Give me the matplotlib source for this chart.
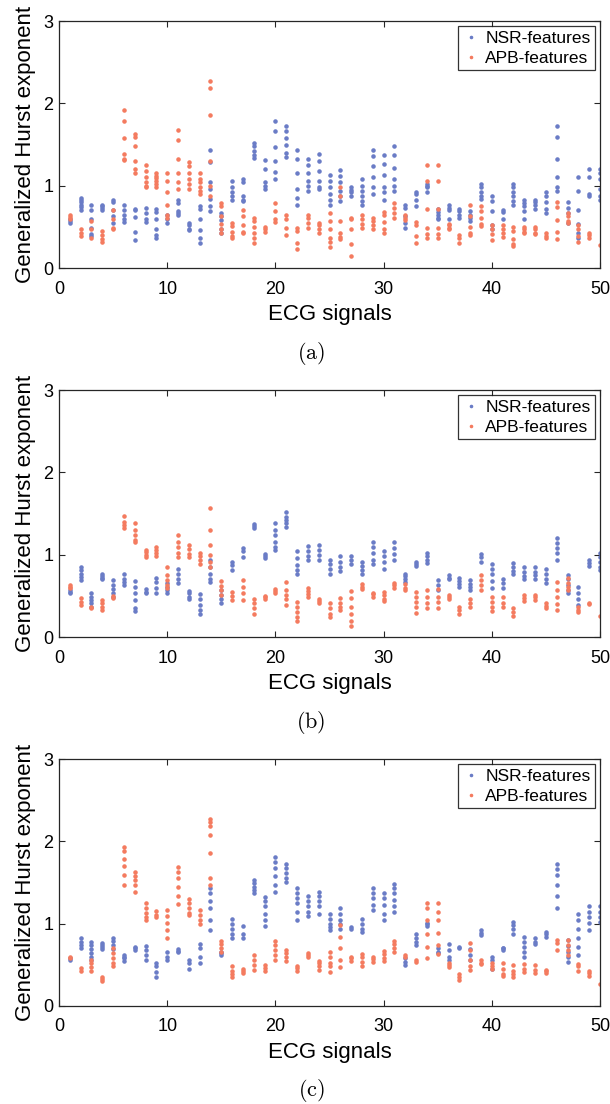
import matplotlib
matplotlib.use("Agg")
import matplotlib.pyplot as plt

plt.rcParams['font.family'] = ['Liberation Sans', 'DejaVu Sans']
plt.rcParams['mathtext.fontset'] = 'cm'

NSR_COLOR = '#6a7cc6'
APB_COLOR = '#f47b5f'

signals = list(range(1, 51))

# (a) NSR features, one list per ECG signal
nsr_a = [
    [0.55, 0.57, 0.59], [0.71, 0.74, 0.77, 0.8, 0.83, 0.85], [0.39, 0.41, 0.49, 0.59, 0.71, 0.77],
    [0.71, 0.73, 0.75, 0.76], [0.55, 0.63, 0.71, 0.8, 0.83], [0.56, 0.59, 0.65, 0.71, 0.76],
    [0.34, 0.44, 0.62, 0.71, 0.72], [0.56, 0.59, 0.67, 0.73], [0.36, 0.4, 0.47, 0.59, 0.68, 0.72],
    [0.55, 0.59, 0.65], [0.65, 0.67, 0.69, 0.79, 0.83], [0.46, 0.48, 0.52, 0.55],
    [0.3, 0.36, 0.46, 0.6, 0.72, 0.75], [0.69, 0.75, 0.84, 0.96, 1.05, 1.29, 1.43],
    [0.43, 0.47, 0.58, 0.63, 0.67], [0.83, 0.87, 0.92, 0.98, 1.06], [0.81, 0.83, 0.88, 1.04, 1.08],
    [1.34, 1.37, 1.42, 1.48, 1.52], [0.96, 1.0, 1.04, 1.2, 1.31], [1.08, 1.17, 1.3, 1.47, 1.66, 1.79],
    [1.35, 1.4, 1.49, 1.58, 1.67, 1.73], [0.77, 0.85, 0.96, 1.15, 1.32, 1.43],
    [0.94, 1.0, 1.06, 1.16, 1.25, 1.33], [0.96, 0.99, 1.06, 1.18, 1.3, 1.39],
    [0.77, 0.83, 0.9, 0.98, 1.06, 1.13], [0.81, 0.88, 0.94, 1.04, 1.12, 1.19],
    [0.88, 0.92, 0.95, 0.98], [0.77, 0.81, 0.88, 0.94, 1.0, 1.08], [0.9, 0.98, 1.1, 1.24, 1.36, 1.44],
    [0.83, 0.92, 0.99, 1.13, 1.26, 1.37], [0.94, 1.0, 1.08, 1.22, 1.37, 1.48],
    [0.49, 0.55, 0.63, 0.73, 0.77], [0.75, 0.83, 0.9, 0.92], [0.92, 0.98, 1.0, 1.02],
    [0.59, 0.61, 0.65, 0.68, 0.72], [0.59, 0.71, 0.73, 0.76], [0.61, 0.64, 0.69, 0.72],
    [0.57, 0.61, 0.65, 0.69], [0.84, 0.88, 0.92, 0.98, 1.02], [0.47, 0.52, 0.69, 0.82, 0.88],
    [0.6, 0.68, 0.71], [0.77, 0.81, 0.88, 0.92, 0.99, 1.02], [0.6, 0.69, 0.75, 0.79, 0.83],
    [0.72, 0.76, 0.8, 0.83], [0.67, 0.72, 0.8, 0.88, 0.92], [0.94, 0.99, 1.1, 1.33, 1.59, 1.72],
    [0.55, 0.67, 0.73, 0.8], [0.36, 0.43, 0.53, 0.71, 0.94, 1.11], [0.88, 0.9, 1.11, 1.2],
    [0.83, 0.88, 0.96, 1.08, 1.15, 1.2],
]

# (a) APB features
apb_a = [
    [0.6, 0.62, 0.64], [0.39, 0.43, 0.47], [0.37, 0.47, 0.57], [0.32, 0.35, 0.4, 0.45],
    [0.47, 0.49, 0.59, 0.71], [1.31, 1.33, 1.39, 1.58, 1.79, 1.92], [1.16, 1.2, 1.3, 1.48, 1.59, 1.63],
    [0.98, 1.0, 1.04, 1.1, 1.18, 1.25], [0.98, 1.02, 1.06, 1.09, 1.12, 1.15],
    [0.61, 0.65, 0.77, 0.92, 1.06, 1.16], [0.96, 1.04, 1.16, 1.33, 1.55, 1.68],
    [0.96, 1.02, 1.08, 1.16, 1.24, 1.29], [0.9, 0.94, 0.98, 1.04, 1.08, 1.16],
    [0.88, 1.0, 1.3, 1.86, 2.19, 2.27], [0.43, 0.48, 0.53, 0.63, 0.75, 0.79],
    [0.37, 0.39, 0.44, 0.51, 0.55], [0.42, 0.44, 0.52, 0.63, 0.7], [0.31, 0.36, 0.43, 0.5, 0.57, 0.61],
    [0.44, 0.47, 0.5], [0.56, 0.59, 0.69, 0.79], [0.4, 0.49, 0.59, 0.65], [0.23, 0.31, 0.45, 0.49],
    [0.49, 0.55, 0.61, 0.65], [0.43, 0.47, 0.52, 0.55], [0.25, 0.32, 0.37, 0.47, 0.57, 0.67],
    [0.35, 0.38, 0.43, 0.57, 0.88, 0.99], [0.15, 0.29, 0.48, 0.59, 0.61], [0.49, 0.54, 0.6, 0.64],
    [0.48, 0.52, 0.57, 0.61], [0.43, 0.48, 0.56, 0.64, 0.68], [0.61, 0.67, 0.73, 0.79],
    [0.58, 0.61, 0.64], [0.31, 0.39, 0.52, 0.56], [0.36, 0.41, 0.49, 0.72, 1.06, 1.25],
    [0.36, 0.41, 0.49, 0.72, 1.06, 1.25], [0.47, 0.49, 0.52, 0.54], [0.31, 0.36, 0.4],
    [0.4, 0.43, 0.5, 0.63, 0.76], [0.51, 0.53, 0.61, 0.69, 0.75], [0.34, 0.41, 0.48, 0.52],
    [0.38, 0.43, 0.47, 0.52], [0.27, 0.29, 0.35, 0.45, 0.5], [0.42, 0.44, 0.47, 0.5],
    [0.41, 0.43, 0.47, 0.5], [0.36, 0.39, 0.43], [0.35, 0.44, 0.58, 0.74, 0.8],
    [0.55, 0.57, 0.63, 0.67], [0.32, 0.39, 0.47, 0.52], [0.37, 0.4, 0.43], [0.28],
]

# (b) NSR features
nsr_b = [
    [0.53, 0.55, 0.57], [0.69, 0.73, 0.77, 0.81, 0.85], [0.37, 0.41, 0.45, 0.49, 0.54],
    [0.7, 0.72, 0.74, 0.76], [0.48, 0.53, 0.58, 0.63, 0.69], [0.63, 0.67, 0.71, 0.76],
    [0.32, 0.35, 0.45, 0.53, 0.61, 0.68], [0.53, 0.55, 0.58], [0.53, 0.59, 0.67, 0.72],
    [0.53, 0.57, 0.61, 0.65], [0.66, 0.71, 0.77, 0.83], [0.46, 0.49, 0.53, 0.56],
    [0.28, 0.33, 0.39, 0.46, 0.52], [0.67, 0.71, 0.77, 0.85, 0.93], [0.41, 0.46, 0.51, 0.57],
    [0.82, 0.87, 0.91], [0.97, 1.04, 1.08], [1.32, 1.35, 1.37], [0.96, 0.98, 1.01],
    [1.06, 1.09, 1.16, 1.24, 1.3, 1.38], [1.34, 1.38, 1.42, 1.46, 1.52], [0.76, 0.81, 0.87, 0.96, 1.05],
    [0.93, 0.98, 1.04, 1.1], [0.93, 1.0, 1.06, 1.12], [0.77, 0.83, 0.89, 0.94], [0.8, 0.85, 0.91, 0.98],
    [0.89, 0.93, 0.98], [0.77, 0.81, 0.86, 0.91], [0.89, 0.94, 1.02, 1.09, 1.16], [0.83, 0.91, 0.98, 1.05],
    [0.94, 1.01, 1.08, 1.15], [0.67, 0.7, 0.74, 0.77], [0.86, 0.89, 0.91], [0.9, 0.93, 0.98, 1.02],
    [0.57, 0.63, 0.69], [0.7, 0.72, 0.75], [0.61, 0.64, 0.68, 0.72], [0.57, 0.61, 0.64, 0.69],
    [0.91, 0.97, 1.01], [0.59, 0.68, 0.77, 0.83, 0.89], [0.59, 0.66, 0.71], [0.77, 0.8, 0.85, 0.9],
    [0.71, 0.74, 0.79, 0.85], [0.71, 0.75, 0.79, 0.85], [0.66, 0.71, 0.77, 0.83],
    [0.93, 1.02, 1.08, 1.14, 1.2], [0.53, 0.57, 0.63, 0.7, 0.75], [0.39, 0.46, 0.53, 0.61],
    [0.86, 0.9, 0.93], [0.81, 0.85, 0.91, 0.97, 1.02],
]

# (b) APB features
apb_b = [
    [0.59, 0.61, 0.63], [0.39, 0.43, 0.47], [0.35, 0.37], [0.33, 0.37, 0.41, 0.45], [0.47, 0.5],
    [1.32, 1.36, 1.4, 1.47], [1.15, 1.18, 1.24, 1.3, 1.39], [0.97, 1.0, 1.03, 1.06],
    [0.98, 1.02, 1.06, 1.09], [0.59, 0.63, 0.69, 0.75, 0.85], [0.97, 1.02, 1.09, 1.16, 1.24],
    [0.97, 1.01, 1.07, 1.12], [0.89, 0.93, 0.98, 1.02], [0.85, 0.91, 1.0, 1.12, 1.3, 1.57],
    [0.51, 0.57, 0.62, 0.68], [0.45, 0.5, 0.55], [0.45, 0.53, 0.61, 0.69], [0.28, 0.35, 0.41, 0.46],
    [0.46, 0.48, 0.5], [0.54, 0.56, 0.58], [0.39, 0.46, 0.51, 0.57, 0.67], [0.2, 0.24, 0.3, 0.37, 0.43],
    [0.48, 0.52, 0.56, 0.59], [0.41, 0.44, 0.46], [0.24, 0.28, 0.35, 0.41], [0.33, 0.36, 0.41, 0.47],
    [0.13, 0.2, 0.28, 0.37, 0.47, 0.56], [0.58, 0.61, 0.64], [0.49, 0.52, 0.54], [0.44, 0.46, 0.51, 0.55],
    [0.6, 0.63, 0.66], [0.57, 0.6, 0.64], [0.29, 0.37, 0.43, 0.49, 0.55], [0.35, 0.41, 0.49, 0.57],
    [0.35, 0.43, 0.49, 0.58], [0.46, 0.48, 0.51], [0.28, 0.33, 0.37], [0.37, 0.41, 0.46],
    [0.57, 0.63, 0.69, 0.75], [0.32, 0.37, 0.43, 0.49], [0.36, 0.41, 0.48], [0.26, 0.3, 0.35],
    [0.44, 0.47, 0.51], [0.45, 0.48, 0.51], [0.35, 0.38, 0.41], [0.33, 0.4, 0.49, 0.57, 0.67],
    [0.57, 0.61, 0.66, 0.72], [0.3, 0.33, 0.37], [0.4, 0.41], [0.26],
]

# (c) NSR features
nsr_c = [
    [0.56, 0.58], [0.7, 0.74, 0.78, 0.82], [0.56, 0.6, 0.64, 0.69, 0.74, 0.78], [0.69, 0.72, 0.74, 0.76],
    [0.69, 0.74, 0.79, 0.83], [0.55, 0.58, 0.6, 0.62], [0.68, 0.7, 0.72], [0.56, 0.62, 0.68, 0.73],
    [0.35, 0.41, 0.48, 0.52], [0.56, 0.6, 0.65], [0.65, 0.67, 0.69], [0.45, 0.52, 0.56],
    [0.52, 0.6, 0.7, 0.75], [0.92, 1.05, 1.19, 1.27, 1.37, 1.43], [0.62, 0.64, 0.66],
    [0.83, 0.88, 0.94, 1.0, 1.06], [0.82, 0.88, 0.97], [1.37, 1.41, 1.45, 1.49, 1.53],
    [0.97, 1.04, 1.12, 1.21, 1.27, 1.32], [1.38, 1.47, 1.58, 1.67, 1.75, 1.81],
    [1.51, 1.56, 1.62, 1.67, 1.73], [1.04, 1.14, 1.25, 1.31, 1.37, 1.43], [1.09, 1.14, 1.21, 1.27, 1.33],
    [1.12, 1.21, 1.27, 1.33, 1.39], [0.92, 0.96, 1.0, 1.06, 1.12], [0.94, 1.0, 1.05, 1.12, 1.19],
    [0.94, 0.96], [0.9, 0.94, 1.0, 1.06], [1.16, 1.23, 1.31, 1.37, 1.43], [1.04, 1.12, 1.23, 1.31, 1.37],
    [1.14, 1.21, 1.29, 1.37, 1.43, 1.48], [0.5, 0.54, 0.58], [0.74, 0.78, 0.82, 0.88], [0.97, 1.0, 1.01],
    [0.64, 0.66, 0.7], [0.56, 0.6, 0.68, 0.75], [0.7, 0.72], [0.56, 0.62, 0.69], [0.86, 0.89, 0.92],
    [0.45, 0.56, 0.6], [0.68, 0.7, 0.71], [0.88, 0.93, 0.98, 1.02], [0.59, 0.66, 0.72, 0.78, 0.84],
    [0.75, 0.78, 0.83], [0.84, 0.87, 0.9], [1.19, 1.33, 1.47, 1.59, 1.66, 1.73],
    [0.54, 0.59, 0.66, 0.73, 0.8], [0.62, 0.72, 0.83, 0.94, 1.05, 1.12], [0.92, 1.01, 1.08, 1.14, 1.21],
    [1.02, 1.08, 1.14, 1.21],
]

# (c) APB features
apb_c = [
    [0.58, 0.6], [0.43, 0.46], [0.43, 0.47, 0.52, 0.56], [0.3, 0.33, 0.35], [0.48, 0.52, 0.58, 0.64, 0.7],
    [1.47, 1.59, 1.7, 1.79, 1.88, 1.93], [1.39, 1.47, 1.53, 1.58, 1.63], [1.04, 1.08, 1.13, 1.19, 1.25],
    [1.08, 1.11, 1.15], [0.83, 0.92, 1.01, 1.09, 1.17], [1.24, 1.34, 1.45, 1.55, 1.63, 1.69],
    [1.1, 1.13, 1.19, 1.25, 1.3], [1.0, 1.05, 1.1, 1.16], [1.47, 1.56, 1.86, 2.08, 2.19, 2.24, 2.27],
    [0.66, 0.7, 0.75, 0.79], [0.35, 0.39, 0.43, 0.48], [0.4, 0.43, 0.45], [0.44, 0.5, 0.56, 0.62],
    [0.43, 0.46, 0.5], [0.56, 0.62, 0.68, 0.74, 0.79], [0.55, 0.59, 0.64, 0.68], [0.43, 0.46, 0.48],
    [0.59, 0.62, 0.64], [0.44, 0.48, 0.52, 0.55], [0.41, 0.48, 0.52, 0.59, 0.66], [0.47, 0.56, 0.7, 0.84, 0.98],
    [0.55, 0.58, 0.6], [0.48, 0.54, 0.59, 0.63], [0.54, 0.57, 0.6], [0.55, 0.58, 0.63, 0.67],
    [0.66, 0.7, 0.75, 0.79], [0.59, 0.62], [0.54, 0.56], [0.58, 0.72, 0.88, 1.05, 1.19, 1.25],
    [0.63, 0.74, 0.89, 1.05, 1.14, 1.25], [0.47, 0.5, 0.52], [0.32, 0.35, 0.39], [0.44, 0.48, 0.56, 0.68, 0.76],
    [0.51, 0.52, 0.56], [0.45, 0.48, 0.52], [0.36, 0.39, 0.45, 0.52], [0.35, 0.39, 0.43, 0.5],
    [0.41, 0.45, 0.51], [0.4, 0.44, 0.5], [0.4, 0.42, 0.44], [0.68, 0.76, 0.8], [0.62, 0.68, 0.74, 0.8],
    [0.43, 0.48, 0.51], [0.36, 0.4, 0.43], [0.27],
]

panels = [(nsr_a, apb_a, '(a)'), (nsr_b, apb_b, '(b)'), (nsr_c, apb_c, '(c)')]
ax_bottoms = [0.7572, 0.4230, 0.0888]

fig = plt.figure(figsize=(6.1, 11.04), dpi=100)

for (nsr, apb, tag), bottom in zip(panels, ax_bottoms):
    ax = fig.add_axes([0.0967, bottom, 0.887, 0.2237])

    xs_n = [s for s, vals in zip(signals, nsr) for _ in vals]
    ys_n = [v for vals in nsr for v in vals]
    xs_a = [s for s, vals in zip(signals, apb) for _ in vals]
    ys_a = [v for vals in apb for v in vals]

    ax.plot(xs_n, ys_n, '.', color=NSR_COLOR, markersize=4.5, label='NSR-features')
    ax.plot(xs_a, ys_a, '.', color=APB_COLOR, markersize=4.5, label='APB-features')

    ax.set_xlim(0, 50)
    ax.set_ylim(0, 3)
    ax.set_xticks([0, 10, 20, 30, 40, 50])
    ax.set_yticks([0, 1, 2, 3])
    ax.tick_params(direction='in', top=True, right=True, length=4, labelsize=13,
                   color='#262626')
    ax.tick_params(axis='x', pad=9)
    ax.tick_params(axis='y', pad=4)
    for sp in ax.spines.values():
        sp.set_color('#262626')
        sp.set_linewidth(0.9)
    ax.set_xlabel('ECG signals', fontsize=16, labelpad=5)
    ax.set_ylabel('Generalized Hurst exponent', fontsize=16, labelpad=5)

    leg = ax.legend(loc='upper right', fontsize=12.5, frameon=True, fancybox=False,
                    borderaxespad=0.3, handletextpad=0.3, handlelength=1.0,
                    borderpad=0.25, labelspacing=0.3, markerscale=0.7)
    leg.get_frame().set_edgecolor('black')
    leg.get_frame().set_linewidth(0.9)

    fig.text(0.51, bottom - 0.077, r'$\mathrm{' + tag + '}$',
             ha='center', va='center', fontsize=16)

fig.savefig('out.png', dpi=100)
